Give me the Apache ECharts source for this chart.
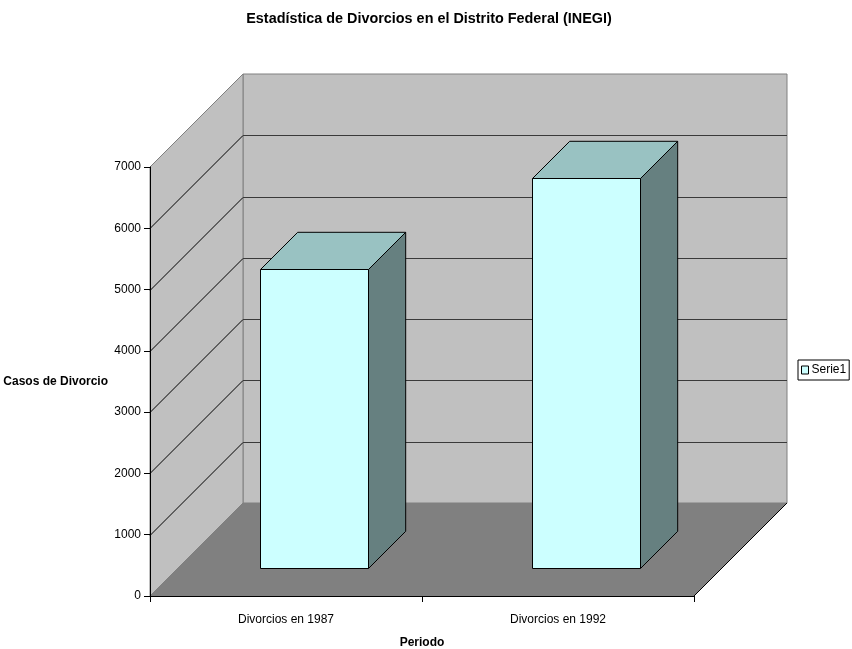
<!DOCTYPE html>
<html>
<head>
<meta charset="utf-8">
<script src="https://cdn.jsdelivr.net/npm/echarts@6/dist/echarts.min.js"></script>
<style>
  html, body { margin: 0; padding: 0; background: #fff; }
  #chart { width: 852px; height: 649px; }
</style>
</head>
<body>
<div id="chart"></div>
<script>
// Divorce counts, Distrito Federal (INEGI)
const categories = ['Divorcios en 1987', 'Divorcios en 1992'];
const serie1 = [4880, 6360];
const yTicks = [0, 1000, 2000, 3000, 4000, 5000, 6000, 7000];

const FONT = '"Liberation Sans", Arial, sans-serif';
const DEPTH = 93;          // wall depth in px (oblique projection, 45deg)
const BAR_OFFSET = 0.3;    // bar front sits this fraction into the depth
const BAR_DEPTH = 0.4;     // bar depth as a fraction of the wall depth
const BAR_WIDTH = 0.4;     // bar width as a fraction of the category band

const chart = echarts.init(document.getElementById('chart'), null, { renderer: 'canvas' });

function renderWalls(params, api) {
  if (params.dataIndex !== 0) return;
  const band = api.size([1, 0])[0];
  const x0 = api.coord([0, 0])[0] - band / 2;
  const x1 = api.coord([categories.length - 1, 0])[0] + band / 2;
  const yAt = v => api.coord([0, v])[1];
  const y0 = yAt(yTicks[0]);
  const yTop = yAt(yTicks[yTicks.length - 1]);
  const D = DEPTH;
  const children = [
    { type: 'polygon', shape: { points: [[x0 + D, yTop - D], [x1 + D, yTop - D], [x1 + D, y0 - D], [x0 + D, y0 - D]] },
      style: { fill: '#c0c0c0', stroke: '#808080', lineWidth: 1 } },
    { type: 'polygon', shape: { points: [[x0, y0], [x0 + D, y0 - D], [x0 + D, yTop - D], [x0, yTop]] },
      style: { fill: '#c0c0c0', stroke: '#808080', lineWidth: 1 } },
    { type: 'polygon', shape: { points: [[x0, y0], [x1, y0], [x1 + D, y0 - D], [x0 + D, y0 - D]] },
      style: { fill: '#808080', stroke: null } },
    { type: 'line', shape: { x1: x1, y1: y0, x2: x1 + D, y2: y0 - D },
      style: { stroke: '#000', lineWidth: 1 } }
  ];
  yTicks.slice(1, -1).forEach(v => {
    const y = Math.round(yAt(v)) + 0.5;
    children.push({ type: 'line', shape: { x1: x0, y1: y, x2: x0 + D, y2: y - D },
      style: { stroke: '#000', lineWidth: 1 } });
    children.push({ type: 'line', shape: { x1: x0 + D, y1: y - D, x2: x1 + D, y2: y - D },
      style: { stroke: '#3a3a3a', lineWidth: 1 } });
  });
  return { type: 'group', children: children };
}

function renderBar(params, api) {
  const cat = api.value(0);
  const val = api.value(1);
  const band = api.size([1, 0])[0];
  const cx = api.coord([cat, 0])[0];
  const y0 = api.coord([cat, 0])[1];
  const yv = api.coord([cat, val])[1];
  const off = DEPTH * BAR_OFFSET;
  const bd = DEPTH * BAR_DEPTH;
  const w = band * BAR_WIDTH;
  const l = Math.round(cx - w / 2 + off) + 0.5;
  const r = Math.round(cx + w / 2 + off) + 0.5;
  const t = Math.round(yv - off) + 0.5;
  const b = Math.round(y0 - off) + 0.5;
  const edge = { stroke: '#000', lineWidth: 1, lineJoin: 'miter' };
  return {
    type: 'group',
    children: [
      { type: 'polygon', shape: { points: [[r, t], [r + bd, t - bd], [r + bd, b - bd], [r, b]] },
        style: Object.assign({ fill: '#668080' }, edge) },
      { type: 'polygon', shape: { points: [[l, t], [r, t], [r + bd, t - bd], [l + bd, t - bd]] },
        style: Object.assign({ fill: '#99c2c2' }, edge) },
      { type: 'rect', shape: { x: l, y: t, width: r - l, height: b - t },
        style: Object.assign({ fill: '#ccffff' }, edge) }
    ]
  };
}

chart.setOption({
  animation: false,
  backgroundColor: '#ffffff',
  textStyle: { fontFamily: FONT },
  title: {
    text: 'Estadística de Divorcios en el Distrito Federal (INEGI)',
    left: 424, top: 7, textAlign: 'center',
    textStyle: { fontFamily: FONT, fontSize: 14.4, fontWeight: 'bold', color: '#000' }
  },
  legend: {
    left: 798, top: 360,
    data: [{ name: 'Serie1', icon: 'rect',
      itemStyle: { color: '#ccffff', borderColor: '#000', borderWidth: 1 } }],
    itemWidth: 7, itemHeight: 8, itemGap: 4,
    borderColor: '#000', borderWidth: 1, padding: [4, 3, 4, 3],
    textStyle: { fontFamily: FONT, fontSize: 12, color: '#000', padding: [0, 0, 0, -2] }
  },
  grid: { left: 150, right: 158, top: 167, bottom: 53, containLabel: false, outerBoundsMode: 'none' },
  xAxis: {
    type: 'category', data: categories, boundaryGap: true, z: 10,
    name: 'Periodo', nameLocation: 'middle', nameGap: 41,
    nameTextStyle: { fontFamily: FONT, fontSize: 12, fontWeight: 'bold', color: '#000' },
    axisLine: { show: true, lineStyle: { color: '#000', width: 1 } },
    axisTick: { show: true, length: 6, lineStyle: { color: '#000' } },
    axisLabel: { margin: 18, fontFamily: FONT, fontSize: 12, color: '#000' },
    splitLine: { show: false }
  },
  yAxis: {
    type: 'value', min: 0, max: 7000, interval: 1000, z: 10,
    name: 'Casos de Divorcio', nameLocation: 'middle', nameGap: 42, nameRotate: 0,
    nameTextStyle: { fontFamily: FONT, fontSize: 12, fontWeight: 'bold', color: '#000', align: 'right', verticalAlign: 'middle', padding: [4, 0, 0, 0] },
    axisLine: { show: true, lineStyle: { color: '#000', width: 1 } },
    axisTick: { show: true, length: 6, lineStyle: { color: '#000' } },
    axisLabel: { margin: 9, fontFamily: FONT, fontSize: 12, color: '#000', formatter: v => String(v) },
    splitLine: { show: false }
  },
  series: [
    {
      type: 'custom', name: 'walls', z: 1, silent: true,
      renderItem: renderWalls,
      data: [[0, 0]],
      encode: { x: 0, y: 1 }
    },
    {
      type: 'custom', name: 'Serie1', z: 3,
      itemStyle: { color: '#ccffff', borderColor: '#000', borderWidth: 1 },
      renderItem: renderBar,
      data: serie1.map((v, i) => [i, v]),
      encode: { x: 0, y: 1 }
    }
  ]
});
</script>
</body>
</html>
